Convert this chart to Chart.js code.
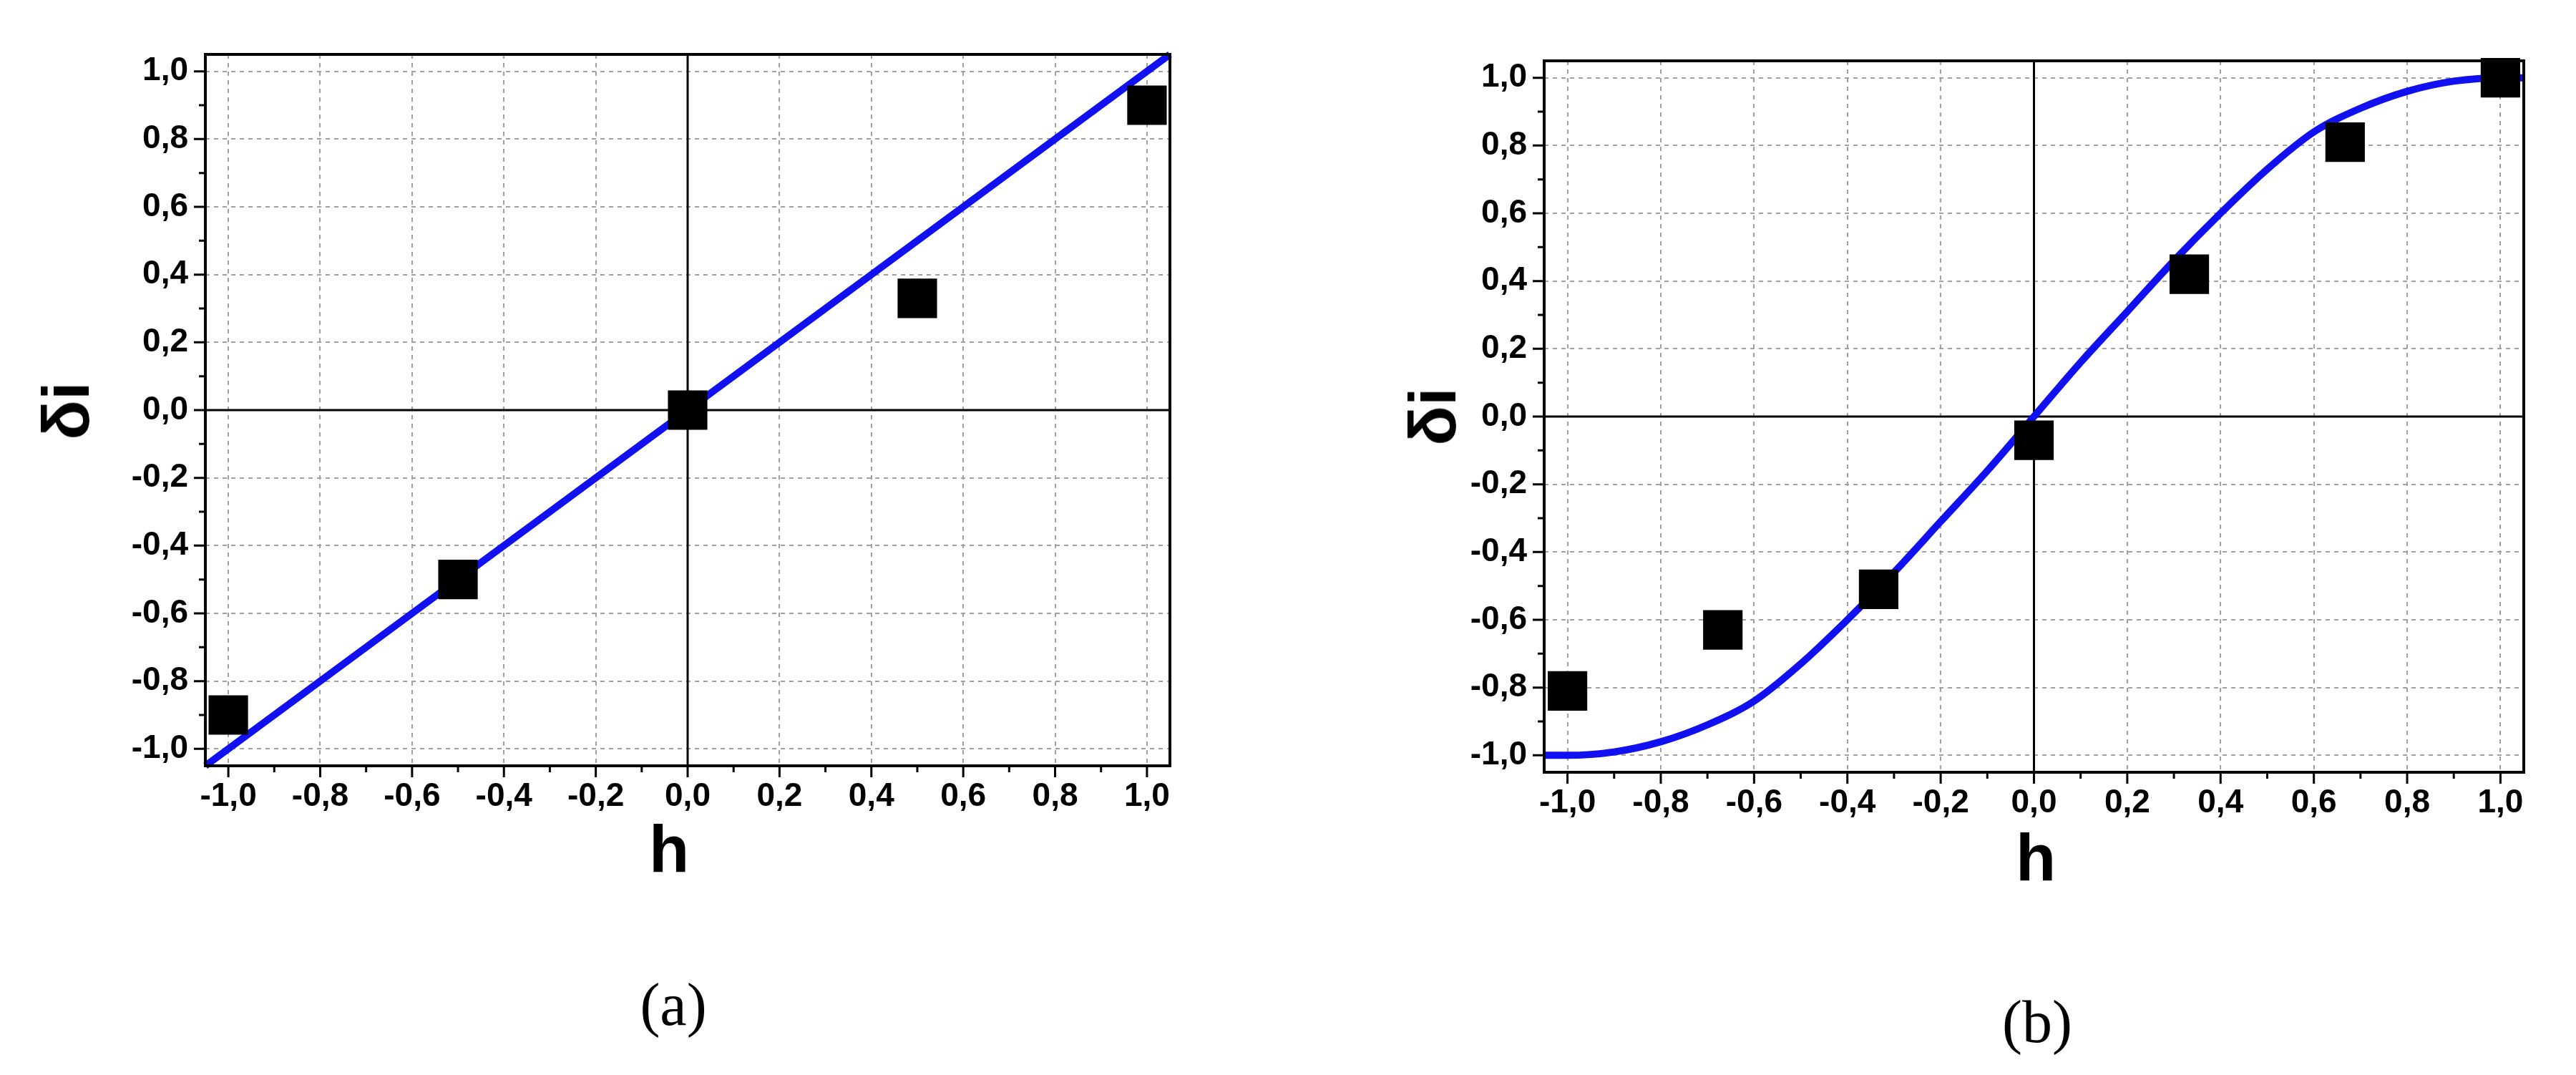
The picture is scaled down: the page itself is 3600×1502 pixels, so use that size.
<!DOCTYPE html>
<html>
<head>
<meta charset="utf-8">
<script src="https://cdn.jsdelivr.net/npm/chart.js@4"></script>
<style>
  body { margin: 0; background: #fff; width: 3600px; height: 1502px; position: relative; overflow: hidden; }
  .box { position: absolute; top: 0; width: 1700px; height: 1300px; }
  .lbl { position: absolute; font-family: 'Liberation Sans', Arial, sans-serif; font-weight: bold; font-size: 92px; color: #000; line-height: 1; }
  .cap { position: absolute; font-family: 'Liberation Serif', 'Times New Roman', serif; font-size: 84px; color: #000; line-height: 1; }
</style>
</head>
<body>
<div class="box" style="left:0"><canvas id="chartA"></canvas></div>
<div class="box" style="left:1900px"><canvas id="chartB"></canvas></div>
<div class="lbl" style="left:935px;top:1140px;transform:translateX(-50%)">h</div>
<div class="lbl" style="left:2845px;top:1152px;transform:translateX(-50%)">h</div>
<div class="lbl" style="left:92px;top:574px;transform:translate(-50%,-50%) rotate(-90deg)">δi</div>
<div class="lbl" style="left:2002px;top:582px;transform:translate(-50%,-50%) rotate(-90deg)">δi</div>
<div class="cap" style="left:941px;top:1362px;transform:translateX(-50%)">(a)</div>
<div class="cap" style="left:2847px;top:1386px;transform:translateX(-50%)">(b)</div>
<script>
// panel (a): measured points and straight fit
let hA = [-1.0, -0.5, 0.0, 0.5, 1.0];
let dA = [-0.90, -0.50, 0.0, 0.33, 0.90];
let fitAx = [-1.05, 1.05];
let fitAy = [-1.05, 1.05];

let hB = [-1.0, -0.667, -0.333, 0.0, 0.333, 0.667, 1.0];
let dB = [-0.81, -0.63, -0.51, -0.07, 0.42, 0.81, 1.0];
let fitBx = [-1.05, -1.0, -0.9, -0.8, -0.7, -0.6, -0.5, -0.4, -0.3, -0.2, -0.1, 0.0,
             0.1, 0.2, 0.3, 0.4, 0.5, 0.6, 0.7, 0.8, 0.9, 1.0, 1.05];
let fitBy = [-1.0, -1.0, -0.99, -0.96, -0.91, -0.84, -0.73, -0.60, -0.46, -0.31, -0.16, 0.0,
             0.16, 0.31, 0.46, 0.60, 0.73, 0.84, 0.91, 0.96, 0.99, 1.0, 1.0];

// tick positions: every 0.1, labels on every 0.2
let tickVals = [];
for (let i = -10; i <= 10; i++) tickVals.push(i / 10);

function fmt(v) {
    return v.toFixed(1).replace('.', ',');
}

// frame, zero lines and outward ticks
const framePlugin = {
    id: 'frame',
    beforeDatasetsDraw(chart) {
        let ctx = chart.ctx, a = chart.chartArea;
        let x0 = chart.scales.x.getPixelForValue(0);
        let y0 = chart.scales.y.getPixelForValue(0);
        ctx.save();
        ctx.strokeStyle = '#000';
        ctx.lineWidth = 3;
        ctx.beginPath();
        ctx.moveTo(x0, a.top); ctx.lineTo(x0, a.bottom);
        ctx.moveTo(a.left, y0); ctx.lineTo(a.right, y0);
        ctx.stroke();
        ctx.restore();
    },
    afterDraw(chart) {
        let ctx = chart.ctx, a = chart.chartArea;
        ctx.save();
        ctx.strokeStyle = '#000';
        ctx.lineWidth = 4;
        ctx.strokeRect(a.left, a.top, a.right - a.left, a.bottom - a.top);
        ctx.lineWidth = 3;
        ctx.beginPath();
        tickVals.forEach((v, i) => {
            let len = i % 2 === 0 ? 16 : 9;
            let px = chart.scales.x.getPixelForValue(v);
            ctx.moveTo(px, a.bottom); ctx.lineTo(px, a.bottom + len);
            let py = chart.scales.y.getPixelForValue(v);
            ctx.moveTo(a.left, py); ctx.lineTo(a.left - len, py);
        });
        ctx.stroke();
        ctx.restore();
    }
};

function makeChart(id, px, py, lx, ly, yW, xH, pad) {
    let axis = (fit, tickPad) => ({
        type: 'linear',
        min: -1.05,
        max: 1.05,
        afterBuildTicks: s => { s.ticks = tickVals.map(v => ({ value: v })); },
        afterFit: fit,
        grid: {
            drawTicks: false,
            color: c => (c.tick && Math.abs(c.tick.value) > 1e-9 && Math.round(c.tick.value * 10) % 2 === 0) ? '#a0a0a0' : 'rgba(0,0,0,0)',
            lineWidth: 2
        },
        border: { display: false, dash: [6, 6] },
        ticks: {
            padding: tickPad,
            autoSkip: false,
            maxRotation: 0,
            color: '#000',
            font: { family: "'Liberation Sans Narrow', 'Liberation Sans', Arial", weight: 'bold', size: 46 },
            callback: v => (Math.round(v * 10) % 2 === 0 ? fmt(v) : '')
        }
    });
    return new Chart(document.getElementById(id), {
        type: 'scatter',
        data: {
            datasets: [
                {
                    data: lx.map((x, i) => ({ x: x, y: ly[i] })),
                    showLine: true,
                    borderColor: '#1010f0',
                    borderWidth: 10,
                    pointRadius: 0,
                    cubicInterpolationMode: 'monotone',
                    order: 2
                },
                {
                    data: px.map((x, i) => ({ x: x, y: py[i] })),
                    pointStyle: 'rect',
                    pointRadius: 39,
                    backgroundColor: '#000',
                    borderWidth: 0,
                    order: 1
                }
            ]
        },
        options: {
            responsive: false,
            animation: false,
            clip: false,
            layout: { padding: pad },
            plugins: { legend: { display: false }, tooltip: { enabled: false } },
            scales: {
                x: axis(s => { s.height = xH; }, 16),
                y: axis(s => { s.width = yW; }, 24)
            }
        },
        plugins: [framePlugin]
    });
}

document.getElementById('chartA').width = 1700;
document.getElementById('chartA').height = 1300;
document.getElementById('chartB').width = 1700;
document.getElementById('chartB').height = 1300;

makeChart('chartA', hA, dA, fitAx, fitAy, 287, 230, { top: 76, right: 65, left: 0, bottom: 0 });
makeChart('chartB', hB, dB, fitBx, fitBy, 258, 221, { top: 85, right: 73, left: 0, bottom: 0 });
</script>
</body>
</html>
